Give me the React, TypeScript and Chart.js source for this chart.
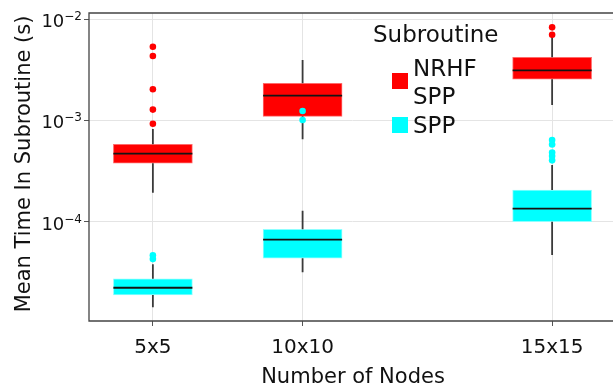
import React, { useEffect, useRef } from 'react';
import { Chart, registerables } from 'chart.js';

Chart.register(...registerables);

// ---- data ----
const categories = ['5x5', '10x10', '15x15'];
const nodeCounts = [25, 100, 225];
const yTickValues = [1e-4, 1e-3, 1e-2];
const yTickExponents = ['\u22124', '\u22123', '\u22122'];
const seriesNames = ['NRHF SPP', 'SPP'];

const nrhfMin = [1.94e-4, 6.53e-4, 1.42e-3];
const nrhfQ1 = [3.79e-4, 1.1e-3, 2.55e-3];
const nrhfMedian = [4.71e-4, 1.755e-3, 3.12e-3];
const nrhfQ3 = [5.83e-4, 2.325e-3, 4.2e-3];
const nrhfMax = [8.25e-4, 3.94e-3, 6.65e-3];
const nrhfOutliers = [
  [9.3e-4, 1.28e-3, 2.03e-3, 4.32e-3, 5.33e-3],
  [],
  [7.0e-3, 8.28e-3],
];

const sppMin = [1.445e-5, 3.2e-5, 4.73e-5];
const sppQ1 = [1.91e-5, 4.39e-5, 1.007e-4];
const sppMedian = [2.25e-5, 6.69e-5, 1.352e-4];
const sppQ3 = [2.76e-5, 8.48e-5, 2.066e-4];
const sppMax = [3.83e-5, 1.29e-4, 3.64e-4];
const sppOutliers = [
  [4.31e-5, 4.71e-5],
  [1.01e-3, 1.24e-3],
  [4.05e-4, 4.47e-4, 4.84e-4, 5.8e-4, 6.43e-4],
];

const RED = '#ff0000';
const CYAN = '#00ffff';
const FONT = '"DejaVu Sans", Verdana, sans-serif';
const TEXT = '#111111';

function boxDatasets(
  name: string,
  color: string,
  border: string,
  mins: number[],
  q1: number[],
  med: number[],
  q3: number[],
  maxs: number[],
  outl: number[][],
  baseOrder: number
): any[] {
  const whiskers: any[] = [];
  nodeCounts.forEach((x, i) => {
    whiskers.push({ x, y: mins[i] }, { x, y: q1[i] }, { x, y: null });
    whiskers.push({ x, y: q3[i] }, { x, y: maxs[i] }, { x, y: null });
  });
  const outPts: any[] = [];
  nodeCounts.forEach((x, i) => outl[i].forEach((v) => outPts.push({ x, y: v })));
  return [
    {
      type: 'bar',
      label: name,
      data: nodeCounts.map((x, i) => ({ x, y: [q1[i], q3[i]] })),
      backgroundColor: color,
      borderColor: border,
      borderWidth: 1,
      borderSkipped: false,
      grouped: false,
      barThickness: 79,
      order: baseOrder + 3,
    },
    {
      type: 'line',
      label: name + ' whiskers',
      data: whiskers,
      borderColor: '#3a3a3a',
      borderWidth: 1.8,
      pointRadius: 0,
      spanGaps: false,
      fill: false,
      order: baseOrder + 2,
    },
    {
      type: 'scatter',
      label: name + ' median',
      data: nodeCounts.map((x, i) => ({ x, y: med[i] })),
      pointStyle: 'line',
      pointRadius: 39.5,
      borderColor: '#141414',
      pointBorderWidth: 1.8,
      borderWidth: 1.8,
      order: baseOrder + 1,
    },
    {
      type: 'scatter',
      label: name + ' outliers',
      data: outPts,
      pointRadius: 3.3,
      pointBorderWidth: 0,
      backgroundColor: color,
      borderColor: color,
      order: baseOrder,
    },
  ];
}

const overlayPlugin = {
  id: 'overlay',
  afterDraw(chart: any) {
    const { ctx, chartArea, scales } = chart;
    const xs = scales.x;
    const ys = scales.y;
    ctx.save();
    // frame
    ctx.strokeStyle = '#444444';
    ctx.lineWidth = 1.3;
    ctx.beginPath();
    ctx.moveTo(chartArea.right + 5, chartArea.top);
    ctx.lineTo(chartArea.left, chartArea.top);
    ctx.lineTo(chartArea.left, chartArea.bottom);
    ctx.lineTo(chartArea.right + 5, chartArea.bottom);
    ctx.stroke();

    ctx.fillStyle = TEXT;
    // y tick labels with superscript
    yTickValues.forEach((v, i) => {
      const py = ys.getPixelForValue(v);
      ctx.font = '12px ' + FONT;
      ctx.textAlign = 'right';
      ctx.textBaseline = 'alphabetic';
      const supRight = chartArea.left - 7;
      const supW = ctx.measureText(yTickExponents[i]).width;
      ctx.fillText(yTickExponents[i], supRight, py + 1);
      ctx.font = '18px ' + FONT;
      ctx.fillText('10', supRight - supW, py + 8);
    });
    // x tick labels
    ctx.font = '20px ' + FONT;
    ctx.textAlign = 'center';
    ctx.textBaseline = 'alphabetic';
    nodeCounts.forEach((n, i) => {
      ctx.fillText(categories[i], xs.getPixelForValue(n), 352.5);
    });
    // x title
    ctx.font = '21px ' + FONT;
    ctx.fillText('Number of Nodes', 353, 383);
    // y title
    ctx.save();
    ctx.translate(30, 164);
    ctx.rotate(-Math.PI / 2);
    ctx.textAlign = 'center';
    ctx.fillText('Mean Time In Subroutine (s)', 0, 0);
    ctx.restore();

    // legend
    ctx.textAlign = 'left';
    ctx.font = '23px ' + FONT;
    ctx.fillText('Subroutine', 373, 42);
    ctx.fillStyle = RED;
    ctx.fillRect(392, 73, 16, 16);
    ctx.fillStyle = CYAN;
    ctx.fillRect(392, 117, 16, 16);
    ctx.fillStyle = TEXT;
    const [w1, w2] = seriesNames[0].split(' ');
    ctx.fillText(w1, 413, 76);
    ctx.fillText(w2, 413, 104);
    ctx.fillText(seriesNames[1], 413, 133);
    ctx.restore();
  },
};

export default function App() {
  const ref = useRef<HTMLCanvasElement | null>(null);
  useEffect(() => {
    if (!ref.current) return;
    const datasets = [
      ...boxDatasets(seriesNames[0], RED, '#ff6a6a', nrhfMin, nrhfQ1, nrhfMedian, nrhfQ3, nrhfMax, nrhfOutliers, 5),
      ...boxDatasets(seriesNames[1], CYAN, '#8cffff', sppMin, sppQ1, sppMedian, sppQ3, sppMax, sppOutliers, 1),
    ];
    const chart = new Chart(ref.current, {
      type: 'bar',
      data: { datasets } as any,
      plugins: [overlayPlugin],
      options: {
        responsive: false,
        animation: false,
        devicePixelRatio: 1,
        layout: { autoPadding: false, padding: { top: 13, left: 0, right: 0, bottom: 0 } },
        plugins: { legend: { display: false }, tooltip: { enabled: false } },
        events: [],
        scales: {
          x: {
            type: 'linear',
            min: -7,
            max: 257,
            offset: false,
            grid: { offset: false, color: '#e4e4e4', lineWidth: 1, tickColor: '#555555', tickLength: 5, drawTicks: true },
            border: { display: false },
            ticks: { display: false },
            afterBuildTicks: (s: any) => {
              s.ticks = nodeCounts.map((v) => ({ value: v }));
            },
            afterFit: (s: any) => {
              s.height = 64;
            },
          },
          y: {
            type: 'logarithmic',
            min: 1.058e-5,
            max: 1.146e-2,
            beginAtZero: false,
            grid: { color: '#e4e4e4', lineWidth: 1, tickColor: '#555555', tickLength: 5, drawTicks: true },
            border: { display: false },
            ticks: { display: false },
            afterBuildTicks: (s: any) => {
              s.ticks = yTickValues.map((v) => ({ value: v }));
            },
            afterFit: (s: any) => {
              s.width = 89;
            },
          },
        },
      } as any,
    });
    return () => chart.destroy();
  }, []);
  return (
    <div style={{ position: 'fixed', left: 0, top: 0, width: 613, height: 385, overflow: 'hidden', background: '#fff' }}>
      <canvas ref={ref} width={616} height={385} style={{ display: 'block' }} />
    </div>
  );
}
